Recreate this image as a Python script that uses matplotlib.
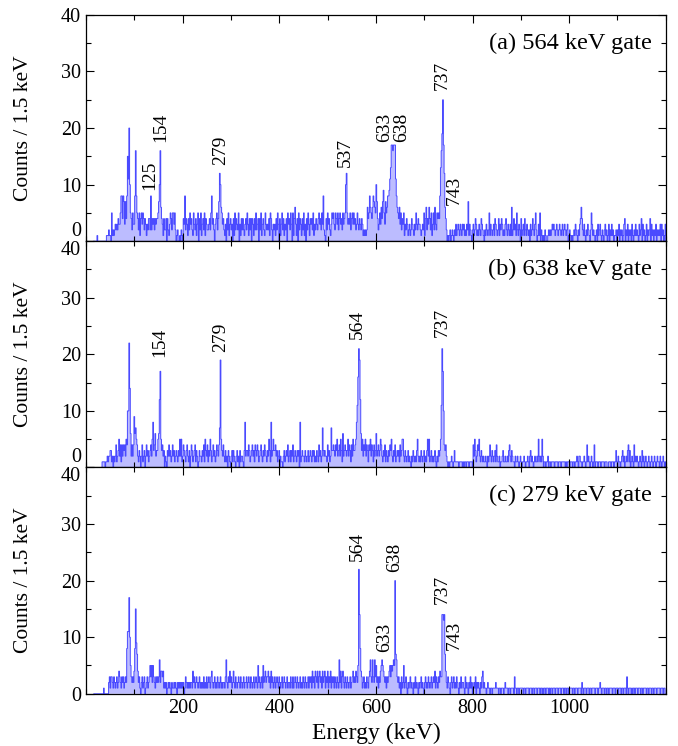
import numpy as np
import matplotlib.pyplot as plt
from matplotlib.ticker import MultipleLocator

plt.rcParams['font.family'] = ['Liberation Serif', 'DejaVu Serif']

# spectra: counts per 1.5 keV bin starting at 15 keV, 30 bins (45 keV) per row
# one base-36 digit per bin (a=10, b=11, ... p=25)
bin_start = 15.0
bin_width = 1.5

spec_564 = [
    "000001000000000000111211051212", "32324335884873748fbka5425338g8",
    "542514535424313244282434243445", "7ag643142240421354255352012001",
    "021043824314253421532413504251", "342514322342583420345247ca6534",
    "213042513423041524325031424213", "425314240431425234042513421532",
    "324154203231425304135241324053", "425305146314052431425130425314",
    "342513243245342538210425342135", "453254352453425345ac5343524535",
    "342353243243121212645865468765", "a742353647953756889bdhhghhhb86",
    "546352435132431231243213253243", "32123251462436425135263254548d",
    "gjphc6420101201210213123213213", "231213271321023124312132143210",
    "213212513212314321241324312134", "213213161242315213204123142132",
    "120312421352013150210102100121", "212323212321232123123212301210",
    "101213210213464213102132102531", "210120312310210231201302131201",
    "120213021201340213021203102131", "210312403120130212403120213021",
    "2130312013",
]

spec_638 = [
    "000000000000111101121223312021", "24123524142434254aame624249675",
    "421320241230242312342583462335", "6ch534230210324231242312321325",
    "251243213421302431234132013221", "3241532413253124231243247j5324",
    "213120321023132102312031221038", "233243123423143243123421324321",
    "325318235334231230211023123241", "231324123213230812322132123123",
    "213231213214231273232214231273", "343243523425316234323524314253",
    "3458bgljc635243524314352431423", "623423542132413213243521324123",
    "231423552132123121021321213521", "213212312135251231212310213235",
    "blha43421010112101311111011110", "101101110111104253124352132121",
    "121021242132123142112011231121", "121342132110211210121011210112",
    "102312101211215212152011011201", "101111011110111011111010111011",
    "101101121022110112101412101210", "140111011101111011100111011101",
    "131021101231201213413012104121", "210121031201210121012101210121",
    "1021012101",
]

spec_279 = [
    "000000000000001000000231332132", "12312432132312328bbha5323248f9",
    "742310231230123123535253213232", "362443412120121210211212102121",
    "212120132121212214231232123121", "213121312321342123121321231212",
    "213621324231242132123213212312", "231232132123123215231231523423",
    "342314231231232132123123212312", "213213123213212312132132123132",
    "314231432413423142341324132413", "231321321624134213213212312342",
    "324325me8431231213213463263263", "52313245654323132345354565k763",
    "231203125123102123121021312102", "123121023121321231232413213243",
    "3eede7421321023123121321021312", "210312102131201213021210213412",
    "110121101101111211101101110121", "110110111103110110111110110111",
    "101110110111011101101011011101", "011011101110111011101101101111",
    "101101110111102101110111011011", "110111011210111011011011110111",
    "011101110110111031011101011011", "101110110111101101110110111011",
    "1101110110",
]

spectra = [spec_564, spec_638, spec_279]
gate_titles = ["(a) 564 keV gate", "(b) 638 keV gate", "(c) 279 keV gate"]

# peak labels: (text, energy position, count height of label bottom)
peak_labels = [
    [("125", 132, 9.0), ("154", 154, 17.5), ("279", 278, 13.5), ("537", 536, 13.1),
     ("633", 618, 17.5), ("638", 653, 17.5), ("737", 738, 26.7), ("743", 762, 6.4)],
    [("154", 153, 19.5), ("279", 278, 20.5), ("564", 562, 22.7), ("737", 737, 23.0)],
    [("564", 562, 23.4), ("638", 639, 21.6), ("633", 618, 7.4), ("737", 738, 15.8),
     ("743", 762, 7.8)],
]

line_col = "#4a4aff"
fill_col = "#bcbcff"

fig, axes = plt.subplots(3, 1, sharex=True, figsize=(6.78, 7.46), dpi=100)
fig.subplots_adjust(left=0.127, right=0.982, top=0.980, bottom=0.070, hspace=0)

for i, (ax, rows, title, labels) in enumerate(zip(axes, spectra, gate_titles, peak_labels)):
    counts = np.array([int(c, 36) for c in "".join(rows)])
    edges = bin_start + bin_width * np.arange(len(counts) + 1)
    ax.stairs(counts, edges, fill=True, color=fill_col, lw=0)
    ax.stairs(counts, edges, color=line_col, lw=0.7)

    ax.set_xlim(0, 1200)
    ax.set_ylim(0, 40)
    ax.xaxis.set_major_locator(MultipleLocator(200))
    ax.xaxis.set_minor_locator(MultipleLocator(100))
    ax.set_yticks([0, 10, 20, 30, 40])
    ax.yaxis.set_minor_locator(MultipleLocator(5))
    ax.tick_params(which='both', direction='in', top=True, right=True, labelsize=14.5)
    ax.tick_params(which='major', length=6, width=0.8)
    ax.tick_params(which='minor', length=3.5, width=0.8)
    for s in ax.spines.values():
        s.set_linewidth(0.9)

    # shared borders: upper panel's 0 sits above the line, lower panel's 40 below it
    ylabs = ax.get_yticklabels()
    if i < 2:
        ylabs[0].set_verticalalignment('bottom')
    if i > 0:
        ylabs[-1].set_verticalalignment('top')

    ax.set_ylabel("Counts / 1.5 keV", fontsize=15.5)
    ax.yaxis.set_label_coords(-0.092, 0.5)
    ax.text(0.976, 0.876, title, transform=ax.transAxes, ha='right', va='center',
            fontsize=17.5)
    for txt, x, y in labels:
        ax.text(x, y, txt, rotation=90, ha='center', va='bottom', fontsize=14)

axes[2].set_xticks([200, 400, 600, 800, 1000])
axes[2].set_xlabel("Energy (keV)", fontsize=17, labelpad=4)

fig.savefig("out.png", dpi=100)
